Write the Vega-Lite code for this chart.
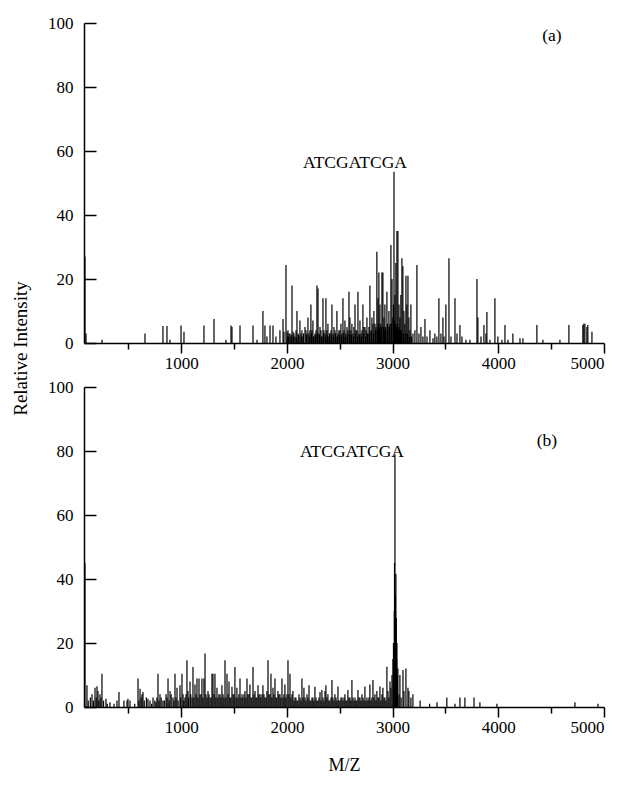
{
  "$schema": "https://vega.github.io/schema/vega-lite/v6.json",
  "padding": {"left": 11, "top": 14, "right": 5, "bottom": 5},
  "background": "white",
  "config": {
    "view": {"stroke": null},
    "font": "Liberation Serif",
    "axis": {
      "labelFont": "Liberation Serif",
      "titleFont": "Liberation Serif",
      "labelFontSize": 17,
      "titleFontSize": 19,
      "titleFontWeight": "normal",
      "labelColor": "black",
      "titleColor": "black",
      "domainColor": "black",
      "domainWidth": 1.5,
      "tickColor": "black",
      "tickWidth": 1.5,
      "grid": false
    },
    "text": {"font": "Liberation Serif", "fontSize": 17.5, "color": "black"}
  },
  "datasets": {
    "a": [
      {"mz": 89, "i": 27}, {"mz": 99, "i": 3}, {"mz": 250, "i": 1}, {"mz": 657, "i": 3},
      {"mz": 827, "i": 5.3}, {"mz": 865, "i": 5.3}, {"mz": 894, "i": 1}, {"mz": 998, "i": 5.5},
      {"mz": 1026, "i": 3.5}, {"mz": 1215, "i": 5.5}, {"mz": 1310, "i": 7.5}, {"mz": 1423, "i": 1},
      {"mz": 1471, "i": 5.5}, {"mz": 1480, "i": 5}, {"mz": 1556, "i": 5.5}, {"mz": 1679, "i": 5.5},
      {"mz": 1717, "i": 1}, {"mz": 1773, "i": 10}, {"mz": 1792, "i": 5.5}, {"mz": 1811, "i": 2},
      {"mz": 1840, "i": 5.5}, {"mz": 1868, "i": 5.5}, {"mz": 1896, "i": 2}, {"mz": 1934, "i": 4},
      {"mz": 1963, "i": 7.5}, {"mz": 1972, "i": 3.5}, {"mz": 1991, "i": 24.4}, {"mz": 2001, "i": 3.5},
      {"mz": 2005, "i": 2}, {"mz": 2010, "i": 4}, {"mz": 2015, "i": 2}, {"mz": 2020, "i": 3}, {"mz": 2029, "i": 3},
      {"mz": 2038, "i": 2}, {"mz": 2043, "i": 2.5}, {"mz": 2048, "i": 18}, {"mz": 2058, "i": 3.5}, {"mz": 2062, "i": 2}, {"mz": 2067, "i": 3},
      {"mz": 2077, "i": 2}, {"mz": 2086, "i": 4}, {"mz": 2090, "i": 1.5}, {"mz": 2095, "i": 10}, {"mz": 2105, "i": 3},
      {"mz": 2110, "i": 2.5}, {"mz": 2114, "i": 2}, {"mz": 2123, "i": 7}, {"mz": 2133, "i": 3}, {"mz": 2138, "i": 2}, {"mz": 2142, "i": 4},
      {"mz": 2152, "i": 2}, {"mz": 2157, "i": 3}, {"mz": 2171, "i": 5}, {"mz": 2180, "i": 4}, {"mz": 2185, "i": 2.5}, {"mz": 2190, "i": 3},
      {"mz": 2199, "i": 8}, {"mz": 2208, "i": 3}, {"mz": 2213, "i": 2}, {"mz": 2218, "i": 4}, {"mz": 2227, "i": 12}, {"mz": 2232, "i": 3},
      {"mz": 2237, "i": 4}, {"mz": 2246, "i": 7}, {"mz": 2251, "i": 2}, {"mz": 2255, "i": 2}, {"mz": 2265, "i": 3}, {"mz": 2270, "i": 2.5},
      {"mz": 2275, "i": 4}, {"mz": 2284, "i": 18}, {"mz": 2289, "i": 3}, {"mz": 2294, "i": 17}, {"mz": 2303, "i": 3}, {"mz": 2308, "i": 2.5},
      {"mz": 2313, "i": 5}, {"mz": 2322, "i": 4}, {"mz": 2327, "i": 2}, {"mz": 2332, "i": 2}, {"mz": 2341, "i": 14}, {"mz": 2346, "i": 3},
      {"mz": 2350, "i": 4}, {"mz": 2360, "i": 3}, {"mz": 2365, "i": 2}, {"mz": 2369, "i": 14}, {"mz": 2378, "i": 4}, {"mz": 2383, "i": 2.5},
      {"mz": 2388, "i": 6}, {"mz": 2397, "i": 2}, {"mz": 2402, "i": 3}, {"mz": 2407, "i": 3}, {"mz": 2417, "i": 4}, {"mz": 2421, "i": 2.5},
      {"mz": 2426, "i": 12}, {"mz": 2436, "i": 3}, {"mz": 2440, "i": 2}, {"mz": 2445, "i": 5}, {"mz": 2455, "i": 4}, {"mz": 2459, "i": 3},
      {"mz": 2464, "i": 2}, {"mz": 2473, "i": 10}, {"mz": 2478, "i": 2}, {"mz": 2483, "i": 3}, {"mz": 2492, "i": 4}, {"mz": 2497, "i": 2.5},
      {"mz": 2502, "i": 4}, {"mz": 2511, "i": 6}, {"mz": 2516, "i": 2}, {"mz": 2520, "i": 3}, {"mz": 2530, "i": 14}, {"mz": 2535, "i": 3},
      {"mz": 2540, "i": 4}, {"mz": 2549, "i": 7}, {"mz": 2554, "i": 2}, {"mz": 2558, "i": 3}, {"mz": 2568, "i": 5}, {"mz": 2573, "i": 2.5},
      {"mz": 2577, "i": 4}, {"mz": 2587, "i": 16}, {"mz": 2592, "i": 3}, {"mz": 2596, "i": 8}, {"mz": 2605, "i": 4}, {"mz": 2610, "i": 2.5},
      {"mz": 2615, "i": 6}, {"mz": 2625, "i": 3}, {"mz": 2630, "i": 2}, {"mz": 2634, "i": 5}, {"mz": 2644, "i": 12}, {"mz": 2648, "i": 3},
      {"mz": 2653, "i": 4}, {"mz": 2662, "i": 4}, {"mz": 2667, "i": 2}, {"mz": 2672, "i": 16}, {"mz": 2681, "i": 3}, {"mz": 2686, "i": 2.5},
      {"mz": 2691, "i": 7}, {"mz": 2700, "i": 3}, {"mz": 2705, "i": 2}, {"mz": 2710, "i": 4}, {"mz": 2719, "i": 12}, {"mz": 2724, "i": 3},
      {"mz": 2728, "i": 5}, {"mz": 2738, "i": 5}, {"mz": 2743, "i": 2}, {"mz": 2748, "i": 4}, {"mz": 2757, "i": 8}, {"mz": 2762, "i": 3},
      {"mz": 2767, "i": 3}, {"mz": 2776, "i": 5}, {"mz": 2781, "i": 3}, {"mz": 2785, "i": 18}, {"mz": 2795, "i": 4}, {"mz": 2800, "i": 3.5},
      {"mz": 2804, "i": 8}, {"mz": 2814, "i": 6}, {"mz": 2819, "i": 3}, {"mz": 2823, "i": 10}, {"mz": 2833, "i": 6}, {"mz": 2838, "i": 4},
      {"mz": 2842, "i": 5}, {"mz": 2851, "i": 28.5}, {"mz": 2856, "i": 4}, {"mz": 2861, "i": 14}, {"mz": 2865, "i": 6}, {"mz": 2870, "i": 22},
      {"mz": 2875, "i": 5}, {"mz": 2880, "i": 12}, {"mz": 2885, "i": 4}, {"mz": 2889, "i": 6}, {"mz": 2894, "i": 5}, {"mz": 2899, "i": 22}, {"mz": 2908, "i": 22},
      {"mz": 2913, "i": 5}, {"mz": 2918, "i": 8}, {"mz": 2922, "i": 4}, {"mz": 2927, "i": 12}, {"mz": 2932, "i": 5}, {"mz": 2937, "i": 4}, {"mz": 2946, "i": 16},
      {"mz": 2951, "i": 6}, {"mz": 2956, "i": 5}, {"mz": 2965, "i": 10}, {"mz": 2970, "i": 5}, {"mz": 2975, "i": 6}, {"mz": 2984, "i": 30.6},
      {"mz": 2989, "i": 6}, {"mz": 2994, "i": 20}, {"mz": 3003, "i": 8}, {"mz": 3008, "i": 12}, {"mz": 3013, "i": 53.5},
      {"mz": 3017, "i": 7}, {"mz": 3022, "i": 15}, {"mz": 3027, "i": 6}, {"mz": 3031, "i": 25}, {"mz": 3036, "i": 5}, {"mz": 3041, "i": 35},
      {"mz": 3046, "i": 6}, {"mz": 3050, "i": 35}, {"mz": 3055, "i": 4},
      {"mz": 3060, "i": 12}, {"mz": 3064, "i": 5}, {"mz": 3069, "i": 8}, {"mz": 3074, "i": 4}, {"mz": 3078, "i": 15}, {"mz": 3083, "i": 4}, {"mz": 3088, "i": 26.5},
      {"mz": 3097, "i": 24}, {"mz": 3102, "i": 3}, {"mz": 3107, "i": 10}, {"mz": 3116, "i": 6}, {"mz": 3121, "i": 3}, {"mz": 3126, "i": 21},
      {"mz": 3135, "i": 12}, {"mz": 3140, "i": 3}, {"mz": 3145, "i": 21}, {"mz": 3154, "i": 8}, {"mz": 3159, "i": 2}, {"mz": 3164, "i": 4},
      {"mz": 3173, "i": 12}, {"mz": 3178, "i": 2}, {"mz": 3192, "i": 3}, {"mz": 3211, "i": 4}, {"mz": 3230, "i": 24.4},
      {"mz": 3249, "i": 3}, {"mz": 3268, "i": 5}, {"mz": 3287, "i": 2}, {"mz": 3306, "i": 7.5},
      {"mz": 3325, "i": 2}, {"mz": 3353, "i": 4}, {"mz": 3382, "i": 1.5}, {"mz": 3400, "i": 3},
      {"mz": 3419, "i": 2}, {"mz": 3438, "i": 14}, {"mz": 3457, "i": 3}, {"mz": 3476, "i": 8},
      {"mz": 3486, "i": 2}, {"mz": 3504, "i": 12}, {"mz": 3533, "i": 26.5}, {"mz": 3552, "i": 2},
      {"mz": 3590, "i": 14}, {"mz": 3609, "i": 3}, {"mz": 3637, "i": 5.6}, {"mz": 3656, "i": 2},
      {"mz": 3694, "i": 1}, {"mz": 3731, "i": 1}, {"mz": 3798, "i": 20}, {"mz": 3807, "i": 8},
      {"mz": 3836, "i": 2}, {"mz": 3864, "i": 5.6}, {"mz": 3883, "i": 3}, {"mz": 3892, "i": 9.7},
      {"mz": 3921, "i": 1}, {"mz": 3968, "i": 14}, {"mz": 3996, "i": 2}, {"mz": 4034, "i": 1},
      {"mz": 4063, "i": 5.6}, {"mz": 4091, "i": 1}, {"mz": 4138, "i": 3}, {"mz": 4205, "i": 1.5},
      {"mz": 4233, "i": 1.5}, {"mz": 4365, "i": 5.6}, {"mz": 4422, "i": 1}, {"mz": 4583, "i": 1},
      {"mz": 4668, "i": 5.6}, {"mz": 4800, "i": 5.6}, {"mz": 4809, "i": 6}, {"mz": 4819, "i": 6},
      {"mz": 4838, "i": 5}, {"mz": 4847, "i": 5.6}, {"mz": 4886, "i": 3.5}
    ],
    "b": [
      {"mz": 89, "i": 45}, {"mz": 108, "i": 6.8}, {"mz": 120, "i": 2}, {"mz": 140, "i": 3}, {"mz": 156, "i": 4}, {"mz": 170, "i": 2}, {"mz": 184, "i": 6},
      {"mz": 195, "i": 3}, {"mz": 203, "i": 6.5}, {"mz": 212, "i": 5}, {"mz": 220, "i": 2}, {"mz": 231, "i": 4}, {"mz": 240, "i": 3}, {"mz": 250, "i": 10.4},
      {"mz": 265, "i": 2}, {"mz": 288, "i": 2.6}, {"mz": 300, "i": 1}, {"mz": 326, "i": 1.5}, {"mz": 364, "i": 1}, {"mz": 392, "i": 2},
      {"mz": 411, "i": 4.7}, {"mz": 458, "i": 2}, {"mz": 487, "i": 2}, {"mz": 496, "i": 2.6},
      {"mz": 515, "i": 2}, {"mz": 560, "i": 1}, {"mz": 591, "i": 8.9}, {"mz": 600, "i": 2}, {"mz": 610, "i": 5.7}, {"mz": 620, "i": 3}, {"mz": 629, "i": 4},
      {"mz": 638, "i": 4.7}, {"mz": 650, "i": 2}, {"mz": 670, "i": 3}, {"mz": 685, "i": 2.6}, {"mz": 704, "i": 2}, {"mz": 720, "i": 1}, {"mz": 733, "i": 3},
      {"mz": 750, "i": 2}, {"mz": 761, "i": 1.6}, {"mz": 770, "i": 3}, {"mz": 780, "i": 10.4}, {"mz": 790, "i": 2}, {"mz": 799, "i": 4}, {"mz": 810, "i": 3}, {"mz": 827, "i": 2},
      {"mz": 840, "i": 2}, {"mz": 856, "i": 4}, {"mz": 865, "i": 3}, {"mz": 875, "i": 8.9}, {"mz": 885, "i": 2}, {"mz": 894, "i": 5}, {"mz": 905, "i": 4}, {"mz": 922, "i": 3},
      {"mz": 930, "i": 2}, {"mz": 941, "i": 10.4}, {"mz": 950, "i": 3}, {"mz": 960, "i": 6}, {"mz": 970, "i": 2}, {"mz": 988, "i": 6.8}, {"mz": 995, "i": 3}, {"mz": 1007, "i": 10.4},
      {"mz": 1017, "i": 4}, {"mz": 1025, "i": 2}, {"mz": 1035, "i": 3}, {"mz": 1045, "i": 4}, {"mz": 1054, "i": 14.6}, {"mz": 1064, "i": 5},
      {"mz": 1070, "i": 3}, {"mz": 1083, "i": 8}, {"mz": 1090, "i": 4}, {"mz": 1102, "i": 3}, {"mz": 1111, "i": 12.5}, {"mz": 1120, "i": 3}, {"mz": 1130, "i": 7},
      {"mz": 1140, "i": 4}, {"mz": 1149, "i": 8.9}, {"mz": 1158, "i": 3}, {"mz": 1168, "i": 8.9}, {"mz": 1177, "i": 4}, {"mz": 1187, "i": 4}, {"mz": 1196, "i": 8.9},
      {"mz": 1205, "i": 3}, {"mz": 1215, "i": 8.9}, {"mz": 1225, "i": 16.7}, {"mz": 1234, "i": 4}, {"mz": 1244, "i": 3}, {"mz": 1253, "i": 5},
      {"mz": 1262, "i": 4}, {"mz": 1272, "i": 3}, {"mz": 1282, "i": 3}, {"mz": 1291, "i": 10.4}, {"mz": 1300, "i": 10.4}, {"mz": 1310, "i": 4}, {"mz": 1319, "i": 10.4},
      {"mz": 1328, "i": 3}, {"mz": 1338, "i": 6}, {"mz": 1348, "i": 3}, {"mz": 1357, "i": 4}, {"mz": 1367, "i": 4}, {"mz": 1376, "i": 3}, {"mz": 1385, "i": 6.8},
      {"mz": 1395, "i": 4}, {"mz": 1404, "i": 3}, {"mz": 1414, "i": 14.6}, {"mz": 1423, "i": 3}, {"mz": 1433, "i": 10.4}, {"mz": 1442, "i": 4}, {"mz": 1452, "i": 8},
      {"mz": 1461, "i": 3}, {"mz": 1470, "i": 3}, {"mz": 1480, "i": 6.3}, {"mz": 1490, "i": 4}, {"mz": 1499, "i": 4}, {"mz": 1508, "i": 12.5},
      {"mz": 1518, "i": 3}, {"mz": 1527, "i": 6}, {"mz": 1537, "i": 3}, {"mz": 1546, "i": 4}, {"mz": 1556, "i": 8.9}, {"mz": 1565, "i": 3}, {"mz": 1575, "i": 4},
      {"mz": 1584, "i": 3}, {"mz": 1594, "i": 4}, {"mz": 1603, "i": 5}, {"mz": 1612, "i": 3}, {"mz": 1622, "i": 8.9}, {"mz": 1631, "i": 4},
      {"mz": 1641, "i": 4}, {"mz": 1650, "i": 7}, {"mz": 1660, "i": 3}, {"mz": 1669, "i": 3}, {"mz": 1679, "i": 12.5}, {"mz": 1688, "i": 4}, {"mz": 1698, "i": 5},
      {"mz": 1707, "i": 3}, {"mz": 1716, "i": 3}, {"mz": 1726, "i": 6.8}, {"mz": 1735, "i": 4}, {"mz": 1745, "i": 4}, {"mz": 1754, "i": 3}, {"mz": 1764, "i": 4},
      {"mz": 1773, "i": 6.8}, {"mz": 1783, "i": 4}, {"mz": 1792, "i": 3}, {"mz": 1802, "i": 3}, {"mz": 1811, "i": 5}, {"mz": 1821, "i": 14.6},
      {"mz": 1830, "i": 4}, {"mz": 1840, "i": 4}, {"mz": 1849, "i": 10.4}, {"mz": 1858, "i": 3}, {"mz": 1868, "i": 6}, {"mz": 1877, "i": 4}, {"mz": 1887, "i": 8.9},
      {"mz": 1896, "i": 3}, {"mz": 1905, "i": 3}, {"mz": 1915, "i": 5}, {"mz": 1924, "i": 4}, {"mz": 1934, "i": 4}, {"mz": 1943, "i": 3}, {"mz": 1953, "i": 8.9},
      {"mz": 1963, "i": 3}, {"mz": 1972, "i": 4}, {"mz": 1981, "i": 7}, {"mz": 1990, "i": 3}, {"mz": 2000, "i": 4}, {"mz": 2010, "i": 14.6},
      {"mz": 2019, "i": 4}, {"mz": 2029, "i": 10.4}, {"mz": 2038, "i": 3}, {"mz": 2048, "i": 4}, {"mz": 2057, "i": 5}, {"mz": 2066, "i": 2}, {"mz": 2076, "i": 3},
      {"mz": 2085, "i": 3}, {"mz": 2095, "i": 2}, {"mz": 2104, "i": 2}, {"mz": 2114, "i": 4}, {"mz": 2124, "i": 3}, {"mz": 2133, "i": 2}, {"mz": 2142, "i": 8.9},
      {"mz": 2152, "i": 3}, {"mz": 2161, "i": 6}, {"mz": 2171, "i": 3}, {"mz": 2180, "i": 2}, {"mz": 2190, "i": 4}, {"mz": 2199, "i": 3}, {"mz": 2209, "i": 6.8},
      {"mz": 2218, "i": 2}, {"mz": 2227, "i": 2}, {"mz": 2237, "i": 3}, {"mz": 2246, "i": 3}, {"mz": 2255, "i": 2}, {"mz": 2265, "i": 6.3}, {"mz": 2275, "i": 3},
      {"mz": 2284, "i": 2}, {"mz": 2294, "i": 2}, {"mz": 2303, "i": 3}, {"mz": 2313, "i": 4.7}, {"mz": 2322, "i": 2}, {"mz": 2331, "i": 5.3}, {"mz": 2341, "i": 3},
      {"mz": 2350, "i": 2}, {"mz": 2360, "i": 5}, {"mz": 2369, "i": 6.8}, {"mz": 2378, "i": 3}, {"mz": 2388, "i": 4}, {"mz": 2397, "i": 2}, {"mz": 2407, "i": 2},
      {"mz": 2417, "i": 3}, {"mz": 2426, "i": 8.4}, {"mz": 2435, "i": 3}, {"mz": 2445, "i": 2}, {"mz": 2454, "i": 4}, {"mz": 2464, "i": 3}, {"mz": 2473, "i": 2},
      {"mz": 2483, "i": 6.4}, {"mz": 2492, "i": 2}, {"mz": 2502, "i": 2}, {"mz": 2511, "i": 3}, {"mz": 2521, "i": 3}, {"mz": 2530, "i": 2}, {"mz": 2540, "i": 3},
      {"mz": 2549, "i": 4}, {"mz": 2558, "i": 2}, {"mz": 2568, "i": 2}, {"mz": 2577, "i": 5.3}, {"mz": 2587, "i": 3}, {"mz": 2596, "i": 3}, {"mz": 2605, "i": 2},
      {"mz": 2615, "i": 8.4}, {"mz": 2625, "i": 3}, {"mz": 2634, "i": 2}, {"mz": 2644, "i": 3}, {"mz": 2653, "i": 2}, {"mz": 2662, "i": 2}, {"mz": 2672, "i": 5.3},
      {"mz": 2681, "i": 3}, {"mz": 2691, "i": 3}, {"mz": 2700, "i": 2}, {"mz": 2710, "i": 4}, {"mz": 2720, "i": 3}, {"mz": 2729, "i": 2}, {"mz": 2738, "i": 6.4},
      {"mz": 2748, "i": 2}, {"mz": 2757, "i": 3}, {"mz": 2767, "i": 2}, {"mz": 2776, "i": 3}, {"mz": 2785, "i": 7}, {"mz": 2795, "i": 2}, {"mz": 2804, "i": 3},
      {"mz": 2814, "i": 8.4}, {"mz": 2823, "i": 3}, {"mz": 2833, "i": 4}, {"mz": 2842, "i": 2}, {"mz": 2851, "i": 5}, {"mz": 2861, "i": 3}, {"mz": 2870, "i": 3},
      {"mz": 2880, "i": 6.4}, {"mz": 2889, "i": 2}, {"mz": 2899, "i": 4}, {"mz": 2908, "i": 6}, {"mz": 2918, "i": 3}, {"mz": 2927, "i": 3}, {"mz": 2937, "i": 2},
      {"mz": 2946, "i": 12.6}, {"mz": 2956, "i": 5}, {"mz": 2965, "i": 3}, {"mz": 2975, "i": 8}, {"mz": 2984, "i": 6}, {"mz": 2994, "i": 10},
      {"mz": 3003, "i": 15}, {"mz": 3008, "i": 20}, {"mz": 3013, "i": 14.7}, {"mz": 3016, "i": 30},
      {"mz": 3018, "i": 45}, {"mz": 3022, "i": 79}, {"mz": 3026, "i": 35}, {"mz": 3027, "i": 25},
      {"mz": 3031, "i": 41.6}, {"mz": 3035, "i": 28}, {"mz": 3038, "i": 15}, {"mz": 3041, "i": 20},
      {"mz": 3045, "i": 10}, {"mz": 3050, "i": 12}, {"mz": 3060, "i": 4}, {"mz": 3069, "i": 10}, {"mz": 3080, "i": 3}, {"mz": 3098, "i": 11.6},
      {"mz": 3107, "i": 5}, {"mz": 3126, "i": 12}, {"mz": 3145, "i": 6}, {"mz": 3154, "i": 5},
      {"mz": 3173, "i": 3}, {"mz": 3192, "i": 4}, {"mz": 3260, "i": 2}, {"mz": 3350, "i": 1},
      {"mz": 3420, "i": 1.5}, {"mz": 3513, "i": 3}, {"mz": 3590, "i": 1}, {"mz": 3637, "i": 3},
      {"mz": 3684, "i": 3}, {"mz": 3770, "i": 3}, {"mz": 3826, "i": 1.5}, {"mz": 3987, "i": 1},
      {"mz": 4725, "i": 1.5}, {"mz": 4943, "i": 1}
    ],
    "la": [
      {"mz": 2644, "i": 56.3, "t": "ATCGATCGA"},
      {"mz": 4507, "i": 96, "t": "(a)"}
    ],
    "lb": [
      {"mz": 2615, "i": 79.7, "t": "ATCGATCGA"},
      {"mz": 4460, "i": 83, "t": "(b)"}
    ]
  },
  "vconcat": [
    {
      "width": 520,
      "height": 320,
      "layer": [
        {
          "data": {"name": "a"},
          "mark": {"type": "rule", "color": "black", "strokeWidth": 1.2},
          "encoding": {
            "x": {
              "field": "mz", "type": "quantitative",
              "scale": {"domain": [80, 5000], "nice": false, "zero": false},
              "axis": {
                "title": null,
                "values": [500, 1000, 1500, 2000, 2500, 3000, 3500, 4000, 4500, 5000],
                "format": "d",
                "labelExpr": "datum.value % 1000 === 0 ? datum.label : ''",
                "tickSize": {"condition": {"test": "datum.value % 1000 === 0", "value": 10}, "value": 6},
                "labelPadding": 2
              }
            },
            "y": {
              "field": "i", "type": "quantitative",
              "scale": {"domain": [0, 100], "nice": false},
              "axis": {
                "title": "Relative Intensity",
                "titleX": -64,
                "titleY": 325,
                "titleAngle": -90,
                "titleAlign": "center",
                "titleBaseline": "middle",
                "values": [0, 10, 20, 30, 40, 50, 60, 70, 80, 90, 100],
                "labelExpr": "datum.value % 20 === 0 ? datum.label : ''",
                "tickSize": {"condition": {"test": "datum.value % 20 === 0", "value": -12}, "value": -7},
                "labelPadding": 23
              }
            },
            "y2": {"datum": 0}
          }
        },
        {
          "data": {"name": "la"},
          "mark": {"type": "text", "baseline": "middle", "align": "center"},
          "encoding": {
            "x": {"field": "mz", "type": "quantitative"},
            "y": {"field": "i", "type": "quantitative"},
            "text": {"field": "t"}
          }
        }
      ]
    },
    {
      "width": 520,
      "height": 320,
      "layer": [
        {
          "data": {"name": "b"},
          "mark": {"type": "rule", "color": "black", "strokeWidth": 1.2},
          "encoding": {
            "x": {
              "field": "mz", "type": "quantitative",
              "scale": {"domain": [80, 5000], "nice": false, "zero": false},
              "axis": {
                "title": "M/Z",
                "titleFontSize": 18,
                "titleY": 58,
                "titleBaseline": "middle",
                "values": [500, 1000, 1500, 2000, 2500, 3000, 3500, 4000, 4500, 5000],
                "format": "d",
                "labelExpr": "datum.value % 1000 === 0 ? datum.label : ''",
                "tickSize": {"condition": {"test": "datum.value % 1000 === 0", "value": 10}, "value": 6},
                "labelPadding": 2
              }
            },
            "y": {
              "field": "i", "type": "quantitative",
              "scale": {"domain": [0, 100], "nice": false},
              "axis": {
                "title": null,
                "values": [0, 10, 20, 30, 40, 50, 60, 70, 80, 90, 100],
                "labelExpr": "datum.value % 20 === 0 ? datum.label : ''",
                "tickSize": {"condition": {"test": "datum.value % 20 === 0", "value": -12}, "value": -7},
                "labelPadding": 23
              }
            },
            "y2": {"datum": 0}
          }
        },
        {
          "data": {"name": "lb"},
          "mark": {"type": "text", "baseline": "middle", "align": "center"},
          "encoding": {
            "x": {"field": "mz", "type": "quantitative"},
            "y": {"field": "i", "type": "quantitative"},
            "text": {"field": "t"}
          }
        }
      ]
    }
  ],
  "spacing": 44,
  "bounds": "flush"
}
